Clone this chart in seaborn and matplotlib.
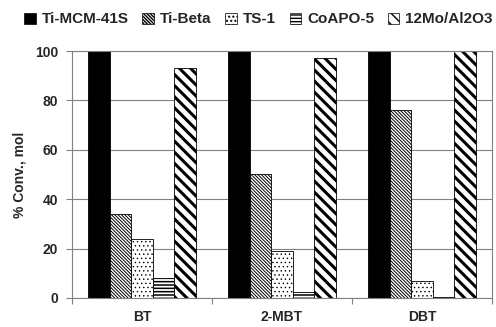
import matplotlib
matplotlib.use("Agg")
import matplotlib.pyplot as plt
import seaborn as sns
import pandas as pd
from matplotlib.patches import Patch

substrates = ["BT", "2-MBT", "DBT"]
catalysts = ["Ti-MCM-41S", "Ti-Beta", "TS-1", "CoAPO-5", "12Mo/Al2O3"]
ti_mcm = [100, 100, 100]
ti_beta = [34, 50, 76]
ts1 = [24, 19, 7]
coapo = [8, 2.5, 0.3]
mo_al = [93, 97, 100]

series = [ti_mcm, ti_beta, ts1, coapo, mo_al]
rows = []
for cat, vals in zip(catalysts, series):
    for sub, v in zip(substrates, vals):
        rows.append({"substrate": sub, "catalyst": cat, "conv": v})
df = pd.DataFrame(rows)

sns.set_style("white")
plt.rcParams["font.family"] = ["Liberation Sans", "DejaVu Sans"]
plt.rcParams["font.weight"] = "bold"

# fill, hatch, hatch linewidth
styles = {
    "Ti-MCM-41S": ("black", "", 1.0),
    "Ti-Beta": ("white", "\\" * 10, 0.7),
    "TS-1": ("white", "....", 0.5),
    "CoAPO-5": ("white", "-" * 5, 1.1),
    "12Mo/Al2O3": ("white", "\\" * 3, 2.2),
}

fig = plt.figure(figsize=(4.96, 3.27), dpi=100)
ax = fig.add_axes([0.145, 0.089, 0.847, 0.755])

sns.barplot(data=df, x="substrate", y="conv", hue="catalyst", hue_order=catalysts,
            palette=["white"] * 5, width=0.77, ax=ax, legend=False,
            edgecolor="black", linewidth=0.6)

for cont, cat in zip(ax.containers, catalysts):
    fc, h, lw = styles[cat]
    for bar in cont:
        bar.set_facecolor(fc)
        bar.set_edgecolor("black")
        bar.set_hatch(h)
        if hasattr(bar, "set_hatch_linewidth"):
            bar.set_hatch_linewidth(lw)

ax.set_ylim(0, 100)
ax.set_xlim(-0.5, 2.5)
ax.set_yticks([0, 20, 40, 60, 80, 100])
ax.yaxis.grid(True, color="#808080", linewidth=0.8)
ax.set_axisbelow(True)
for s in ax.spines.values():
    s.set_color("#808080")
    s.set_linewidth(0.8)
ax.set_xlabel("")
ax.set_ylabel("% Conv., mol", fontsize=10, fontweight="bold", labelpad=6)
ax.tick_params(axis="y", left=True, length=4, color="#808080", width=0.8,
               labelsize=10, pad=6)
ax.set_xticks([0, 1, 2])
ax.set_xticklabels(substrates, fontsize=10, fontweight="bold")
ax.tick_params(axis="x", length=0, pad=9)
# category boundary ticks
ax.set_xticks([-0.5, 0.5, 1.5, 2.5], minor=True)
ax.tick_params(axis="x", which="minor", bottom=True, length=4, color="#808080", width=0.8)

handles = []
for cat in catalysts:
    fc, h, lw = styles[cat]
    p = Patch(facecolor=fc, hatch=h, edgecolor="black", linewidth=0.5, label=cat)
    if hasattr(p, "set_hatch_linewidth"):
        p.set_hatch_linewidth(min(lw, 1.0))
    handles.append(p)
fig.legend(handles=handles, loc="upper left", bbox_to_anchor=(0.03, 0.99), ncol=5,
           frameon=False, fontsize=11, handlelength=0.75, handleheight=0.75,
           handletextpad=0.4, columnspacing=0.9, borderaxespad=0.2)

fig.savefig("out.png", dpi=100)
